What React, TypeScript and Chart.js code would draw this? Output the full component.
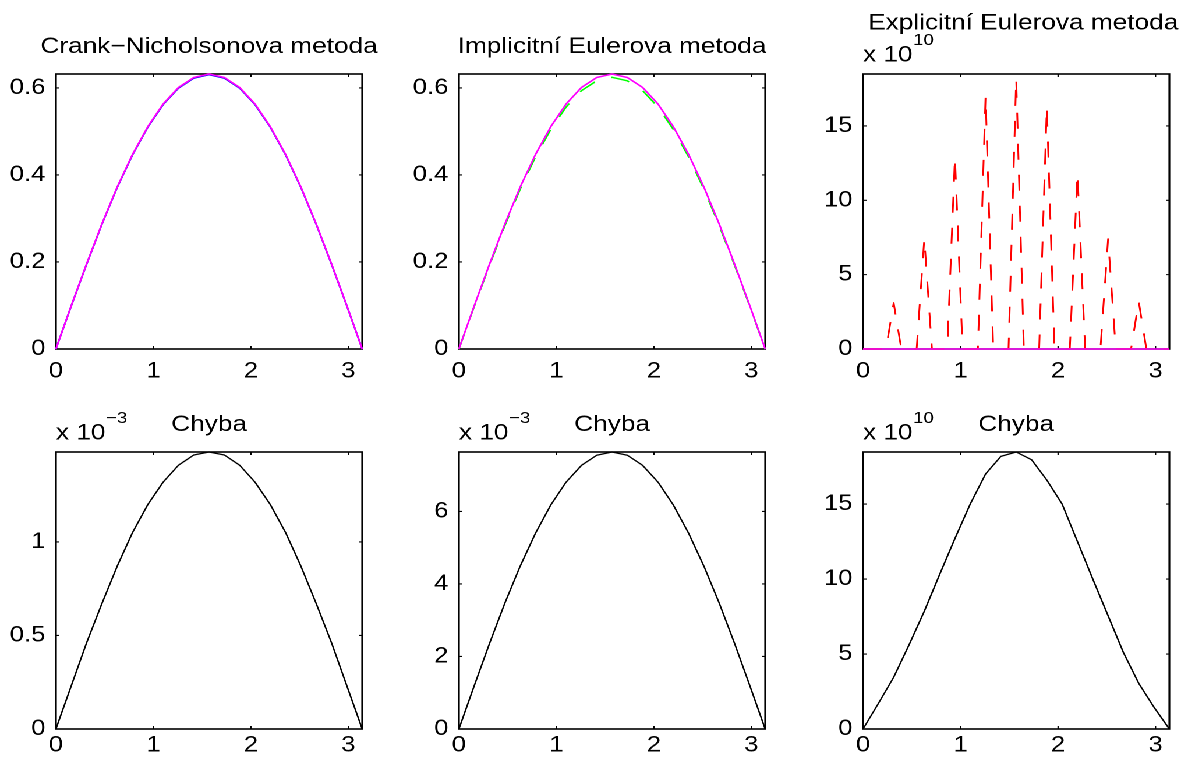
import React, { useEffect, useRef } from "react";
import { Chart, registerables } from "chart.js";

Chart.register(...registerables);

// ---- figure geometry -------------------------------------------------------
// The figure is laid out on a 1020px wide sheet that is stretched to 1188px.
const FIG_W = 1188;
const INNER_W = 1020;
const STRETCH = FIG_W / INNER_W;
const FONT = "'Liberation Sans', Arial, Helvetica, sans-serif";
const TICK_FONT_SIZE = 22;
const TITLE_FONT_SIZE = 22.5;
const SUP_FONT_SIZE = 16;

const COL_LEFT = [55.7, 459, 863.3]; // plot box left edges (figure px)
const ROW_TOP = [74, 452.3]; // plot box top edges
const ROW_H = [275, 277]; // plot box heights
const BOX_W = 306; // plot box width (figure px)
const AXIS_W = 60; // space reserved left of each box for y labels (sheet px)
const PAD_TOP = 85; // space above each box for titles
const PAD_RIGHT = 14;
const AXIS_H = 45; // space below each box for x labels
const TICK_LEN = 3;

// ---- data ------------------------------------------------------------------
// spatial grid, step pi/20
const X_COARSE = [
  0, 0.1571, 0.3142, 0.4712, 0.6283, 0.7854, 0.9425, 1.0996, 1.2566, 1.4137,
  1.5708, 1.7279, 1.885, 2.042, 2.1991, 2.3562, 2.5133, 2.6704, 2.8274, 2.9845,
  3.1416,
];
// finer grid used by the explicit scheme, step pi/40
const X_FINE = [
  0, 0.0785, 0.1571, 0.2356, 0.3142, 0.3927, 0.4712, 0.5498, 0.6283, 0.7069,
  0.7854, 0.8639, 0.9425, 1.021, 1.0996, 1.1781, 1.2566, 1.3352, 1.4137, 1.4923,
  1.5708, 1.6493, 1.7279, 1.8064, 1.885, 1.9635, 2.042, 2.1206, 2.1991, 2.2777,
  2.3562, 2.4347, 2.5133, 2.5918, 2.6704, 2.7489, 2.8274, 2.906, 2.9845, 3.0631,
  3.1416,
];

// exact solution
const EXACT = [
  0, 0.099, 0.195, 0.287, 0.372, 0.447, 0.511, 0.563, 0.601, 0.624, 0.632,
  0.624, 0.601, 0.563, 0.511, 0.447, 0.372, 0.287, 0.195, 0.099, 0,
];
// Crank–Nicolson solution
const CN_SOLUTION = [
  0, 0.0988, 0.1945, 0.2863, 0.3711, 0.446, 0.5098, 0.5617, 0.5996, 0.6225,
  0.6305, 0.6225, 0.5996, 0.5617, 0.5098, 0.446, 0.3711, 0.2863, 0.1945,
  0.0988, 0,
];
// implicit Euler solution
const IMPLICIT_SOLUTION = [
  0, 0.0978, 0.1926, 0.2835, 0.3675, 0.4416, 0.5048, 0.5562, 0.5937, 0.6164,
  0.6244, 0.6164, 0.5937, 0.5562, 0.5048, 0.4416, 0.3675, 0.2835, 0.1926,
  0.0978, 0,
];
// explicit Euler solution (x 10^10), on the fine grid
const EXPLICIT_SOLUTION = [
  0, 0, 0, 0, 3.1, 0, 0, 0, 7.4, 0, 0, 0, 12.9, 0, 0, 0, 17.0, 0, 0, 0, 18.2,
  0, 0, 0, 16.3, 0, 0, 0, 11.8, 0, 0, 0, 7.4, 0, 0, 0, 3.2, 0, 0, 0, 0,
];

// errors
const CN_ERROR = [
  0, 0.23, 0.46, 0.67, 0.87, 1.05, 1.2, 1.32, 1.41, 1.465, 1.481, 1.465, 1.41,
  1.32, 1.2, 1.05, 0.87, 0.67, 0.46, 0.23, 0,
]; // x 10^-3
const IMPLICIT_ERROR = [
  0, 1.19, 2.36, 3.47, 4.49, 5.4, 6.18, 6.81, 7.27, 7.55, 7.64, 7.55, 7.27,
  6.81, 6.18, 5.4, 4.49, 3.47, 2.36, 1.19, 0,
]; // x 10^-3
const EXPLICIT_ERROR = [
  0, 1.7, 3.45, 5.6, 7.85, 10.3, 12.7, 15.0, 17.0, 18.18, 18.47, 17.96, 16.6,
  15.0, 12.5, 10.0, 7.55, 5.1, 3.05, 1.45, 0,
]; // x 10^10

// ticks
const X_TICKS = [0, 1, 2, 3];
const U_TICKS = [0, 0.2, 0.4, 0.6];
const CN_ERR_TICKS = [0, 0.5, 1];
const IMPL_ERR_TICKS = [0, 2, 4, 6];
const EXPL_TICKS = [0, 5, 10, 15];

// axis limits
const X_MAX = Math.PI;
const U_MAX = 0.632;
const EXPL_MAX = 18.49;
const CN_ERR_MAX = 1.481;
const IMPL_ERR_MAX = 7.64;
const EXPL_ERR_MAX = 18.47;

// ---- panels ----------------------------------------------------------------
type Series = {
  xs: number[];
  ys: number[];
  color: string;
  width: number;
  dash?: number[];
};

type PanelSpec = {
  col: number;
  row: number;
  title: string;
  titleShift: number;
  titleRise: number;
  exponent?: string;
  yMax: number;
  yTicks: number[];
  xLabelPad: number;
  series: Series[];
};

const MAGENTA = "#ff00ff";
const DASH = [16, 15];

const PANELS: PanelSpec[] = [
  {
    col: 0,
    row: 0,
    title: "Crank\u2212Nicholsonova metoda",
    titleShift: 0,
    titleRise: 21,
    yMax: U_MAX,
    yTicks: U_TICKS,
    xLabelPad: 9,
    series: [
      { xs: X_COARSE, ys: EXACT, color: MAGENTA, width: 1.5 },
      { xs: X_COARSE, ys: CN_SOLUTION, color: "#0000ff", width: 1.5 },
    ],
  },
  {
    col: 1,
    row: 0,
    title: "Implicitn\u00ed Eulerova metoda",
    titleShift: 0,
    titleRise: 21,
    yMax: U_MAX,
    yTicks: U_TICKS,
    xLabelPad: 9,
    series: [
      { xs: X_COARSE, ys: EXACT, color: MAGENTA, width: 1.5 },
      {
        xs: X_COARSE,
        ys: IMPLICIT_SOLUTION,
        color: "#00ff00",
        width: 1.5,
        dash: DASH,
      },
    ],
  },
  {
    col: 2,
    row: 0,
    title: "Explicitn\u00ed Eulerova metoda",
    titleShift: 7,
    titleRise: 44.7,
    exponent: "10",
    yMax: EXPL_MAX,
    yTicks: EXPL_TICKS,
    xLabelPad: 9,
    series: [
      {
        xs: X_COARSE,
        ys: EXACT.map((v) => v * 1e-10),
        color: MAGENTA,
        width: 1.5,
      },
      {
        xs: X_FINE,
        ys: EXPLICIT_SOLUTION,
        color: "#ff0000",
        width: 1.5,
        dash: DASH,
      },
    ],
  },
  {
    col: 0,
    row: 1,
    title: "Chyba",
    titleShift: 0,
    titleRise: 20.8,
    exponent: "\u22123",
    yMax: CN_ERR_MAX,
    yTicks: CN_ERR_TICKS,
    xLabelPad: 3,
    series: [{ xs: X_COARSE, ys: CN_ERROR, color: "#000000", width: 1.3 }],
  },
  {
    col: 1,
    row: 1,
    title: "Chyba",
    titleShift: 0,
    titleRise: 20.8,
    exponent: "\u22123",
    yMax: IMPL_ERR_MAX,
    yTicks: IMPL_ERR_TICKS,
    xLabelPad: 3,
    series: [{ xs: X_COARSE, ys: IMPLICIT_ERROR, color: "#000000", width: 1.3 }],
  },
  {
    col: 2,
    row: 1,
    title: "Chyba",
    titleShift: 0,
    titleRise: 20.8,
    exponent: "10",
    yMax: EXPL_ERR_MAX,
    yTicks: EXPL_TICKS,
    xLabelPad: 3,
    series: [{ xs: X_COARSE, ys: EXPLICIT_ERROR, color: "#000000", width: 1.3 }],
  },
];

// Box, inward ticks on all four sides, title and the "x 10^n" multiplier.
const framePlugin = {
  id: "frame",
  beforeDatasetsDraw(chart: any, _args: any, opts: any) {
    const { ctx, chartArea: a, scales } = chart;
    ctx.save();
    ctx.strokeStyle = "#000";
    ctx.lineWidth = 1.6;
    ctx.strokeRect(a.left, a.top, a.right - a.left, a.bottom - a.top);
    ctx.lineWidth = 1.1;
    ctx.beginPath();
    for (const v of X_TICKS) {
      const px = scales.x.getPixelForValue(v);
      ctx.moveTo(px, a.bottom);
      ctx.lineTo(px, a.bottom - TICK_LEN);
      ctx.moveTo(px, a.top);
      ctx.lineTo(px, a.top + TICK_LEN);
    }
    for (const v of opts.yTicks as number[]) {
      const py = scales.y.getPixelForValue(v);
      ctx.moveTo(a.left, py);
      ctx.lineTo(a.left + TICK_LEN, py);
      ctx.moveTo(a.right, py);
      ctx.lineTo(a.right - TICK_LEN, py);
    }
    ctx.stroke();
    ctx.restore();
  },
  afterDraw(chart: any, _args: any, opts: any) {
    const { ctx, chartArea: a } = chart;
    ctx.save();
    ctx.fillStyle = "#000";
    ctx.textBaseline = "alphabetic";
    ctx.font = `${TITLE_FONT_SIZE}px ${FONT}`;
    ctx.textAlign = "center";
    ctx.fillText(
      opts.title,
      (a.left + a.right) / 2 + opts.titleShift / STRETCH,
      a.top - opts.titleRise
    );
    if (opts.exponent) {
      ctx.textAlign = "left";
      ctx.font = `${TITLE_FONT_SIZE}px ${FONT}`;
      const base = "x 10";
      ctx.fillText(base, a.left, a.top - 12.7);
      const w = ctx.measureText(base).width;
      ctx.font = `${SUP_FONT_SIZE}px ${FONT}`;
      ctx.fillText(opts.exponent, a.left + w + 0.5, a.top - 29);
    }
    ctx.restore();
  },
};

function panelFrame(spec: PanelSpec) {
  const boxLeft = COL_LEFT[spec.col] / STRETCH;
  const boxW = BOX_W / STRETCH;
  const boxTop = ROW_TOP[spec.row];
  const boxH = ROW_H[spec.row];
  return {
    left: boxLeft - AXIS_W,
    top: boxTop - PAD_TOP,
    width: AXIS_W + boxW + PAD_RIGHT,
    height: PAD_TOP + boxH + AXIS_H,
  };
}

function Panel({ spec }: { spec: PanelSpec }) {
  const ref = useRef<HTMLCanvasElement>(null);
  const f = panelFrame(spec);

  useEffect(() => {
    const tickFont = { family: FONT, size: TICK_FONT_SIZE };
    const chart = new Chart(ref.current as HTMLCanvasElement, {
      type: "line",
      data: {
        datasets: spec.series.map((s) => ({
          data: s.xs.map((x, i) => ({ x, y: s.ys[i] })),
          borderColor: s.color,
          borderWidth: s.width,
          borderDash: s.dash || [],
          borderJoinStyle: "round" as const,
          pointRadius: 0,
          tension: 0,
          fill: false,
          clip: false as any,
        })),
      },
      options: {
        animation: false,
        responsive: false,
        devicePixelRatio: 2,
        events: [],
        layout: {
          padding: { top: PAD_TOP, right: PAD_RIGHT, left: 0, bottom: 0 },
        },
        plugins: {
          legend: { display: false },
          tooltip: { enabled: false },
          title: { display: false },
          frame: {
            title: spec.title,
            titleShift: spec.titleShift,
            titleRise: spec.titleRise,
            exponent: spec.exponent || "",
            yTicks: spec.yTicks,
          },
        } as any,
        scales: {
          x: {
            type: "linear",
            min: 0,
            max: X_MAX,
            offset: false,
            grid: { display: false, drawTicks: false, tickLength: 0 },
            border: { display: false },
            afterBuildTicks: (scale: any) => {
              scale.ticks = X_TICKS.map((v) => ({ value: v }));
            },
            afterFit: (scale: any) => {
              scale.height = AXIS_H;
            },
            ticks: {
              font: tickFont,
              color: "#000",
              padding: spec.xLabelPad,
              maxRotation: 0,
              autoSkip: false,
              callback: (v: any) => String(v),
            },
          },
          y: {
            type: "linear",
            min: 0,
            max: spec.yMax,
            grid: { display: false, drawTicks: false, tickLength: 0 },
            border: { display: false },
            afterBuildTicks: (scale: any) => {
              scale.ticks = spec.yTicks.map((v) => ({ value: v }));
            },
            afterFit: (scale: any) => {
              scale.width = AXIS_W;
            },
            ticks: {
              font: tickFont,
              color: "#000",
              padding: 9,
              autoSkip: false,
              callback: (v: any) => String(v),
            },
          },
        },
      },
      plugins: [framePlugin as any],
    });
    return () => chart.destroy();
  }, []);

  return (
    <canvas
      ref={ref}
      width={Math.round(f.width)}
      height={Math.round(f.height)}
      style={{
        position: "absolute",
        left: f.left,
        top: f.top,
        width: Math.round(f.width),
        height: Math.round(f.height),
      }}
    />
  );
}

export default function App() {
  return (
    <div
      style={{
        position: "absolute",
        left: 0,
        top: 0,
        width: INNER_W,
        height: 765,
        background: "#fff",
        transform: `scaleX(${STRETCH})`,
        transformOrigin: "0 0",
        overflow: "hidden",
      }}
    >
      {PANELS.map((p, i) => (
        <Panel key={i} spec={p} />
      ))}
    </div>
  );
}
